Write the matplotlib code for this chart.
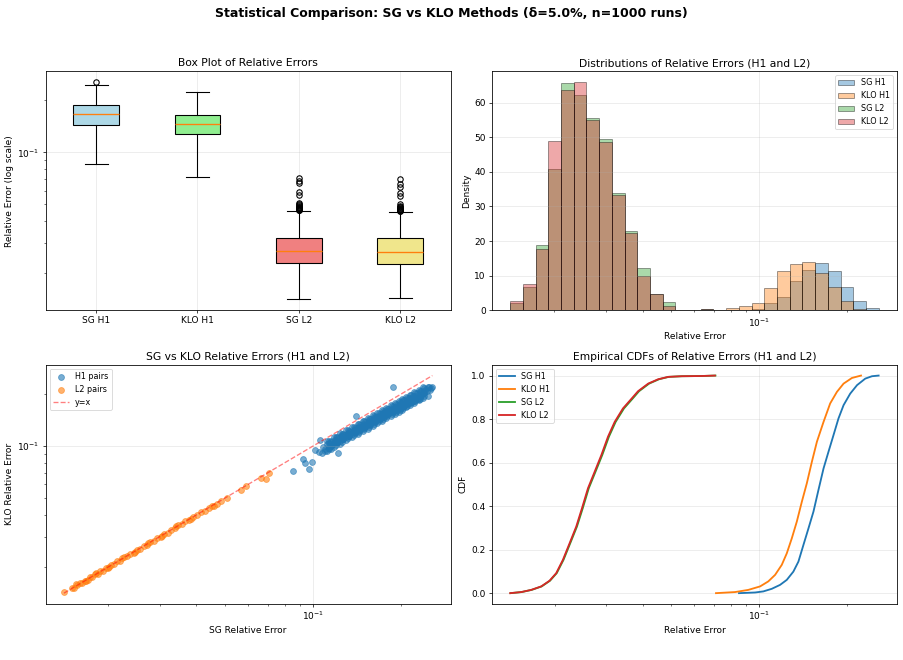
import numpy as np
import matplotlib
matplotlib.use('Agg')
import matplotlib.pyplot as plt

# ---------------- Box plot statistics ----------------
box_labels = ['SG H1', 'KLO H1', 'SG L2', 'KLO L2']
box_colors = ['lightblue', 'lightgreen', 'lightcoral', 'khaki']
box_whislo = [0.0856, 0.0717, 0.01412, 0.01432]
box_q1 = [0.1445, 0.127, 0.02283, 0.0226]
box_med = [0.166, 0.146, 0.0269, 0.0266]
box_q3 = [0.187, 0.165, 0.0321, 0.0318]
box_whishi = [0.246, 0.222, 0.0460, 0.0450]
fliers_sg_h1 = [0.2556]
fliers_klo_h1 = []
fliers_sg_l2 = [0.0462, 0.0465, 0.0467, 0.0469, 0.0472, 0.0475, 0.0478, 0.0481,
                0.0485, 0.0490, 0.0495, 0.0500, 0.0507, 0.0567, 0.0592, 0.0662,
                0.0683, 0.0708]
fliers_klo_l2 = [0.0458, 0.0461, 0.0464, 0.0467, 0.0470, 0.0473, 0.0477, 0.0481,
                 0.0486, 0.0492, 0.0502, 0.0561, 0.0584, 0.0633, 0.0653, 0.0698]

# ---------------- Histogram (density per log-spaced bin) ----------------
hist_lo = 0.01412
hist_hi = 0.2556
hist_nbins = 29
hist_labels = ['SG H1', 'KLO H1', 'SG L2', 'KLO L2']
hist_sg_h1 = [0, 0, 0, 0, 0, 0, 0, 0, 0, 0, 0, 0, 0, 0, 0, 0, 0, 0,
              0.2, 0.4, 2.0, 3.85, 8.4, 11.6, 13.65, 11.45, 6.7, 2.7, 0.6]
hist_klo_h1 = [0, 0, 0, 0, 0, 0, 0, 0, 0, 0, 0, 0, 0, 0, 0, 0, 0.14, 0.7,
               1.15, 2.2, 6.35, 11.35, 13.4, 14.1, 10.8, 6.8, 2.8, 0.25, 0]
hist_sg_l2 = [2.1, 6.8, 18.9, 40.7, 65.5, 62.2, 55.4, 49.5, 33.8, 22.9, 12.2,
              4.6, 2.4, 0.18, 0.17, 0.30, 0.14, 0, 0, 0, 0, 0, 0, 0, 0, 0, 0, 0, 0]
hist_klo_l2 = [2.8, 7.5, 17.7, 48.75, 63.7, 65.8, 55.0, 48.6, 33.2, 22.2, 9.9,
               4.7, 1.4, 0.18, 0.17, 0.30, 0.14, 0, 0, 0, 0, 0, 0, 0, 0, 0, 0, 0, 0]

# ---------------- Scatter pairs (SG error, KLO error) ----------------
h1_sg = [0.0857, 0.0924, 0.0940, 0.0966, 0.0992, 0.1013, 0.1054, 0.1219, 0.1403,
         0.1875, 0.2556, 0.1045, 0.1070, 0.1100, 0.1150,
         0.108, 0.110, 0.112, 0.113, 0.115, 0.116, 0.118, 0.119,
         0.121, 0.122, 0.124, 0.125, 0.127, 0.128, 0.130, 0.131,
         0.133, 0.134, 0.136, 0.137, 0.139, 0.140, 0.142, 0.143, 0.144,
         0.146, 0.147, 0.149, 0.150, 0.151, 0.153, 0.154, 0.156, 0.157, 0.158,
         0.160, 0.161, 0.163, 0.164, 0.165, 0.167, 0.168, 0.170, 0.171, 0.172,
         0.174, 0.175, 0.177, 0.178, 0.179, 0.181, 0.182, 0.184, 0.185, 0.187,
         0.189, 0.190, 0.192, 0.194, 0.196, 0.198, 0.200, 0.203, 0.205, 0.208,
         0.210, 0.213, 0.216, 0.219, 0.222, 0.225, 0.228, 0.232, 0.236, 0.240,
         0.245, 0.250, 0.252, 0.243, 0.248,
         0.112, 0.118, 0.124, 0.130, 0.136, 0.142, 0.148, 0.154, 0.160, 0.166,
         0.172, 0.178, 0.184, 0.190, 0.196, 0.202, 0.208, 0.215, 0.222, 0.230,
         0.238, 0.246,
         0.112, 0.118, 0.124, 0.130, 0.136, 0.142, 0.148, 0.154, 0.160, 0.166,
         0.172, 0.178, 0.184, 0.190, 0.196, 0.202, 0.208, 0.215, 0.222, 0.230,
         0.238, 0.246,
         0.115, 0.121, 0.127, 0.133, 0.139, 0.145, 0.151, 0.157, 0.163, 0.169,
         0.175, 0.181, 0.187, 0.193, 0.199, 0.205, 0.212, 0.219, 0.226, 0.234,
         0.115, 0.121, 0.127, 0.133, 0.139, 0.145, 0.151, 0.157, 0.163, 0.169,
         0.175, 0.181, 0.187, 0.193, 0.199, 0.205, 0.212, 0.219, 0.226, 0.234,
         0.1135, 0.1195, 0.1255, 0.1315, 0.1375, 0.1435, 0.1495, 0.1555, 0.1615,
         0.1675, 0.1735, 0.1795, 0.1855, 0.1915, 0.1975, 0.2035, 0.2095, 0.2165,
         0.2235, 0.2315, 0.2395,
         0.1135, 0.1195, 0.1255, 0.1315, 0.1375, 0.1435, 0.1495, 0.1555, 0.1615,
         0.1675, 0.1735, 0.1795, 0.1855, 0.1915, 0.1975, 0.2035, 0.2095, 0.2165,
         0.2235, 0.2315, 0.2395,
         0.1135, 0.1195, 0.1255, 0.1315, 0.1375, 0.1435, 0.1495, 0.1555, 0.1615,
         0.1675, 0.1735, 0.1795, 0.1855, 0.1915, 0.1975, 0.2035, 0.2095, 0.2165,
         0.2235, 0.2315, 0.2395,
         0.1135, 0.1195, 0.1255, 0.1315, 0.1375, 0.1435, 0.1495, 0.1555, 0.1615,
         0.1675, 0.1735, 0.1795, 0.1855, 0.1915, 0.1975, 0.2035, 0.2095, 0.2165,
         0.2235, 0.2315, 0.2395]
h1_klo = [0.0717, 0.0838, 0.0794, 0.0733, 0.0805, 0.0948, 0.1083, 0.0907, 0.1495,
          0.2184, 0.2184, 0.0925, 0.0915, 0.0935, 0.0960,
          0.099, 0.096, 0.103, 0.098, 0.105, 0.101, 0.104, 0.108,
          0.106, 0.111, 0.107, 0.114, 0.110, 0.116, 0.113, 0.118,
          0.115, 0.120, 0.117, 0.123, 0.121, 0.125, 0.122, 0.128, 0.125,
          0.127, 0.131, 0.128, 0.133, 0.130, 0.135, 0.132, 0.137, 0.134, 0.140,
          0.137, 0.142, 0.139, 0.145, 0.141, 0.147, 0.143, 0.150, 0.146, 0.152,
          0.149, 0.155, 0.151, 0.157, 0.154, 0.159, 0.155, 0.161, 0.158, 0.164,
          0.160, 0.166, 0.163, 0.168, 0.165, 0.171, 0.168, 0.174, 0.171, 0.178,
          0.175, 0.182, 0.179, 0.186, 0.183, 0.190, 0.187, 0.195, 0.199, 0.203,
          0.208, 0.212, 0.216, 0.214, 0.219,
          0.1076, 0.1132, 0.1187, 0.1241, 0.1290, 0.1344, 0.1397, 0.1450, 0.1503,
          0.1558, 0.1611, 0.1664, 0.1717, 0.1770, 0.1819, 0.1870, 0.1924, 0.1985,
          0.2047, 0.2116, 0.2186, 0.2200,
          0.0936, 0.0984, 0.1031, 0.1079, 0.1122, 0.1168, 0.1215, 0.1260, 0.1307,
          0.1354, 0.1401, 0.1446, 0.1493, 0.1538, 0.1581, 0.1626, 0.1672, 0.1725,
          0.1779, 0.1840, 0.1900, 0.1960,
          0.1068, 0.1121, 0.1174, 0.1224, 0.1274, 0.1326, 0.1377, 0.1428, 0.1480,
          0.1533, 0.1584, 0.1635, 0.1687, 0.1736, 0.1784, 0.1835, 0.1895, 0.1955,
          0.2014, 0.2080,
          0.0996, 0.1045, 0.1094, 0.1142, 0.1188, 0.1236, 0.1283, 0.1332, 0.1380,
          0.1429, 0.1476, 0.1525, 0.1573, 0.1618, 0.1664, 0.1711, 0.1767, 0.1823,
          0.1878, 0.1940,
          0.1074, 0.1127, 0.1180, 0.1232, 0.1284, 0.1337, 0.1388, 0.1441, 0.1493,
          0.1545, 0.1597, 0.1648, 0.1700, 0.1751, 0.1803, 0.1853, 0.1905, 0.1964,
          0.2024, 0.2091, 0.2160,
          0.0966, 0.1015, 0.1062, 0.1110, 0.1156, 0.1203, 0.1250, 0.1297, 0.1344,
          0.1391, 0.1437, 0.1484, 0.1530, 0.1577, 0.1623, 0.1669, 0.1715, 0.1768,
          0.1822, 0.1883, 0.1944,
          0.1038, 0.1090, 0.1141, 0.1191, 0.1241, 0.1292, 0.1342, 0.1393, 0.1444,
          0.1494, 0.1544, 0.1593, 0.1643, 0.1693, 0.1743, 0.1792, 0.1842, 0.1899,
          0.1957, 0.2022, 0.2088,
          0.1002, 0.1052, 0.1101, 0.1151, 0.1199, 0.1248, 0.1296, 0.1345, 0.1394,
          0.1442, 0.1490, 0.1539, 0.1587, 0.1635, 0.1683, 0.1730, 0.1778, 0.1833,
          0.1889, 0.1952, 0.2016]
l2_sg = [0.01412, 0.0150, 0.0153, 0.0157, 0.0160, 0.0163, 0.0166, 0.0170, 0.0173,
         0.0176, 0.0180, 0.0184, 0.0188, 0.0192, 0.0196, 0.0200, 0.0205, 0.0210,
         0.0215, 0.0220, 0.0226, 0.0232, 0.0238, 0.0244, 0.0250, 0.0257, 0.0264,
         0.0271, 0.0278, 0.0286, 0.0294, 0.0302, 0.0310, 0.0319, 0.0328, 0.0337,
         0.0347, 0.0357, 0.0367, 0.0378, 0.0390, 0.0402, 0.0414, 0.0427, 0.0440,
         0.0452, 0.0460, 0.0469, 0.0485, 0.0507, 0.0567, 0.0592, 0.0662, 0.0690,
         0.0708, 0.0155, 0.0168, 0.0182, 0.0202, 0.0223, 0.0247, 0.0274, 0.0306,
         0.0342, 0.0384]
l2_klo = [0.01432, 0.0152, 0.0151, 0.0158, 0.0162, 0.0161, 0.0167, 0.0169, 0.0175,
          0.0174, 0.0181, 0.0182, 0.0189, 0.0190, 0.0197, 0.0198, 0.0206, 0.0208,
          0.0216, 0.0218, 0.0227, 0.0230, 0.0239, 0.0242, 0.0251, 0.0254, 0.0265,
          0.0268, 0.0279, 0.0283, 0.0295, 0.0299, 0.0311, 0.0316, 0.0329, 0.0334,
          0.0348, 0.0354, 0.0368, 0.0375, 0.0391, 0.0399, 0.0415, 0.0424, 0.0441,
          0.0449, 0.0450, 0.0464, 0.0481, 0.0502, 0.0561, 0.0584, 0.0653, 0.0642,
          0.0698, 0.0159, 0.0165, 0.0185, 0.0199, 0.0226, 0.0244, 0.0277, 0.0303,
          0.0345, 0.0381]

# ---------------- Empirical CDF points ----------------
cdf_sg_h1_x = [0.0852, 0.0967, 0.1032, 0.1103, 0.1177, 0.1241, 0.1307, 0.1360,
               0.1415, 0.1472, 0.1531, 0.1592, 0.1657, 0.1723, 0.1792, 0.1864,
               0.1940, 0.2044, 0.2157, 0.2301, 0.2426, 0.2556]
cdf_sg_h1_y = [0.0, 0.003, 0.008, 0.020, 0.038, 0.061, 0.099, 0.145, 0.222, 0.298,
               0.375, 0.474, 0.573, 0.650, 0.726, 0.803, 0.864, 0.917, 0.956,
               0.986, 0.997, 1.0]
cdf_klo_h1_x = [0.0711, 0.0826, 0.0917, 0.1006, 0.1073, 0.1132, 0.1193, 0.1241,
                0.1291, 0.1343, 0.1397, 0.1453, 0.1512, 0.1573, 0.1657, 0.1746,
                0.1841, 0.1940, 0.2072, 0.2225]
cdf_klo_h1_y = [0.0, 0.005, 0.015, 0.031, 0.054, 0.084, 0.130, 0.183, 0.252, 0.329,
                0.420, 0.505, 0.604, 0.696, 0.787, 0.872, 0.925, 0.963, 0.989, 1.0]
cdf_sg_l2_x = [0.01412, 0.01540, 0.01667, 0.01804, 0.01926, 0.02031, 0.02142,
               0.02258, 0.02381, 0.02492, 0.02613, 0.02755, 0.02906, 0.03062,
               0.03228, 0.03447, 0.03690, 0.03880, 0.04200, 0.04540, 0.04900,
               0.05440, 0.06370, 0.0708]
cdf_klo_l2_x = [0.01408, 0.01536, 0.01662, 0.01798, 0.01919, 0.02023, 0.02132,
                0.02247, 0.02368, 0.02477, 0.02597, 0.02737, 0.02886, 0.03040,
                0.03204, 0.03420, 0.03660, 0.03850, 0.04170, 0.04510, 0.04880,
                0.05420, 0.06350, 0.0705]
cdf_l2_y = [0.0, 0.005, 0.015, 0.031, 0.057, 0.092, 0.153, 0.229, 0.306, 0.390,
            0.482, 0.558, 0.635, 0.719, 0.787, 0.849, 0.894, 0.928, 0.963, 0.983,
            0.994, 0.997, 0.998, 1.0]

# ============================ Styling ============================
S = 1.075
plt.rcParams.update({
    'font.size': 10 * S,
    'legend.fontsize': 9.6,
    'axes.linewidth': 0.9 * S,
    'grid.linewidth': 0.8 * S,
    'xtick.major.width': 0.8 * S,
    'ytick.major.width': 0.8 * S,
    'xtick.minor.width': 0.6 * S,
    'ytick.minor.width': 0.6 * S,
    'xtick.major.size': 3.5 * S,
    'ytick.major.size': 3.5 * S,
    'xtick.minor.size': 2 * S,
    'ytick.minor.size': 2 * S,
    'lines.linewidth': 1.5 * S,
})

fig = plt.figure(figsize=(15.05, 11), dpi=60)
axes = fig.subplots(2, 2)
fig.subplots_adjust(left=0.0504, right=0.9934, top=0.8924, bottom=0.0848,
                    wspace=0.101, hspace=0.227)
fig.suptitle('Statistical Comparison: SG vs KLO Methods (δ=5.0%, n=1000 runs)',
             fontsize=15, fontweight='bold', y=0.99)

# ---- Box plot ----
ax = axes[0, 0]
all_fliers = [fliers_sg_h1, fliers_klo_h1, fliers_sg_l2, fliers_klo_l2]
stats = []
for i in range(4):
    stats.append(dict(label=box_labels[i], whislo=box_whislo[i], q1=box_q1[i],
                      med=box_med[i], q3=box_q3[i], whishi=box_whishi[i],
                      fliers=np.array(all_fliers[i])))
ax.set_yscale('log')
lw_box = 1.3
bp = ax.bxp(stats, patch_artist=True,
            boxprops=dict(linewidth=lw_box),
            whiskerprops=dict(linewidth=lw_box),
            capprops=dict(linewidth=lw_box),
            medianprops=dict(color='C1', linewidth=1.6),
            flierprops=dict(marker='o', markeredgecolor='black',
                            markerfacecolor='none', markersize=6.5,
                            markeredgewidth=1.3))
for patch, c in zip(bp['boxes'], box_colors):
    patch.set_facecolor(c)
ax.set_ylabel('Relative Error (log scale)')
ax.set_title('Box Plot of Relative Errors')
ax.grid(True, alpha=0.3)

# ---- Histograms ----
ax = axes[0, 1]
edges = np.geomspace(hist_lo, hist_hi, hist_nbins + 1)
centers = np.sqrt(edges[:-1] * edges[1:])
hist_series = [hist_sg_h1, hist_klo_h1, hist_sg_l2, hist_klo_l2]
hist_colors = ['C0', 'C1', 'C2', 'C3']
for vals, lab, c in zip(hist_series, hist_labels, hist_colors):
    ax.hist(centers, bins=edges, weights=vals, alpha=0.4, color=c,
            edgecolor='black', linewidth=1.1, label=lab)
ax.set_xscale('log')
ax.set_xlabel('Relative Error')
ax.set_ylabel('Density')
ax.set_title('Distributions of Relative Errors (H1 and L2)')
ax.legend(loc='upper right')
ax.grid(True, alpha=0.3)

# ---- Scatter ----
ax = axes[1, 0]
ax.scatter(h1_sg, h1_klo, alpha=0.6, s=50, label='H1 pairs')
ax.scatter(l2_sg, l2_klo, alpha=0.6, s=50, label='L2 pairs')
mn = min(min(h1_sg), min(h1_klo), min(l2_sg), min(l2_klo))
mx = max(max(h1_sg), max(h1_klo), max(l2_sg), max(l2_klo))
ax.plot([mn, mx], [mn, mx], 'r--', alpha=0.5, label='y=x')
ax.set_xscale('log')
ax.set_yscale('log')
ax.set_xlabel('SG Relative Error')
ax.set_ylabel('KLO Relative Error')
ax.set_title('SG vs KLO Relative Errors (H1 and L2)')
ax.legend(loc='upper left')
ax.grid(True, alpha=0.3)

# ---- CDFs ----
ax = axes[1, 1]
ax.plot(cdf_sg_h1_x, cdf_sg_h1_y, color='C0', lw=2.2, label='SG H1')
ax.plot(cdf_klo_h1_x, cdf_klo_h1_y, color='C1', lw=2.2, label='KLO H1')
ax.plot(cdf_sg_l2_x, cdf_l2_y, color='C2', lw=2.2, label='SG L2')
ax.plot(cdf_klo_l2_x, cdf_l2_y, color='C3', lw=2.2, label='KLO L2')
ax.set_xscale('log')
ax.set_xlabel('Relative Error')
ax.set_ylabel('CDF')
ax.set_title('Empirical CDFs of Relative Errors (H1 and L2)')
ax.legend(loc='upper left')
ax.grid(True, alpha=0.3)

fig.savefig('out.png', dpi=60)
